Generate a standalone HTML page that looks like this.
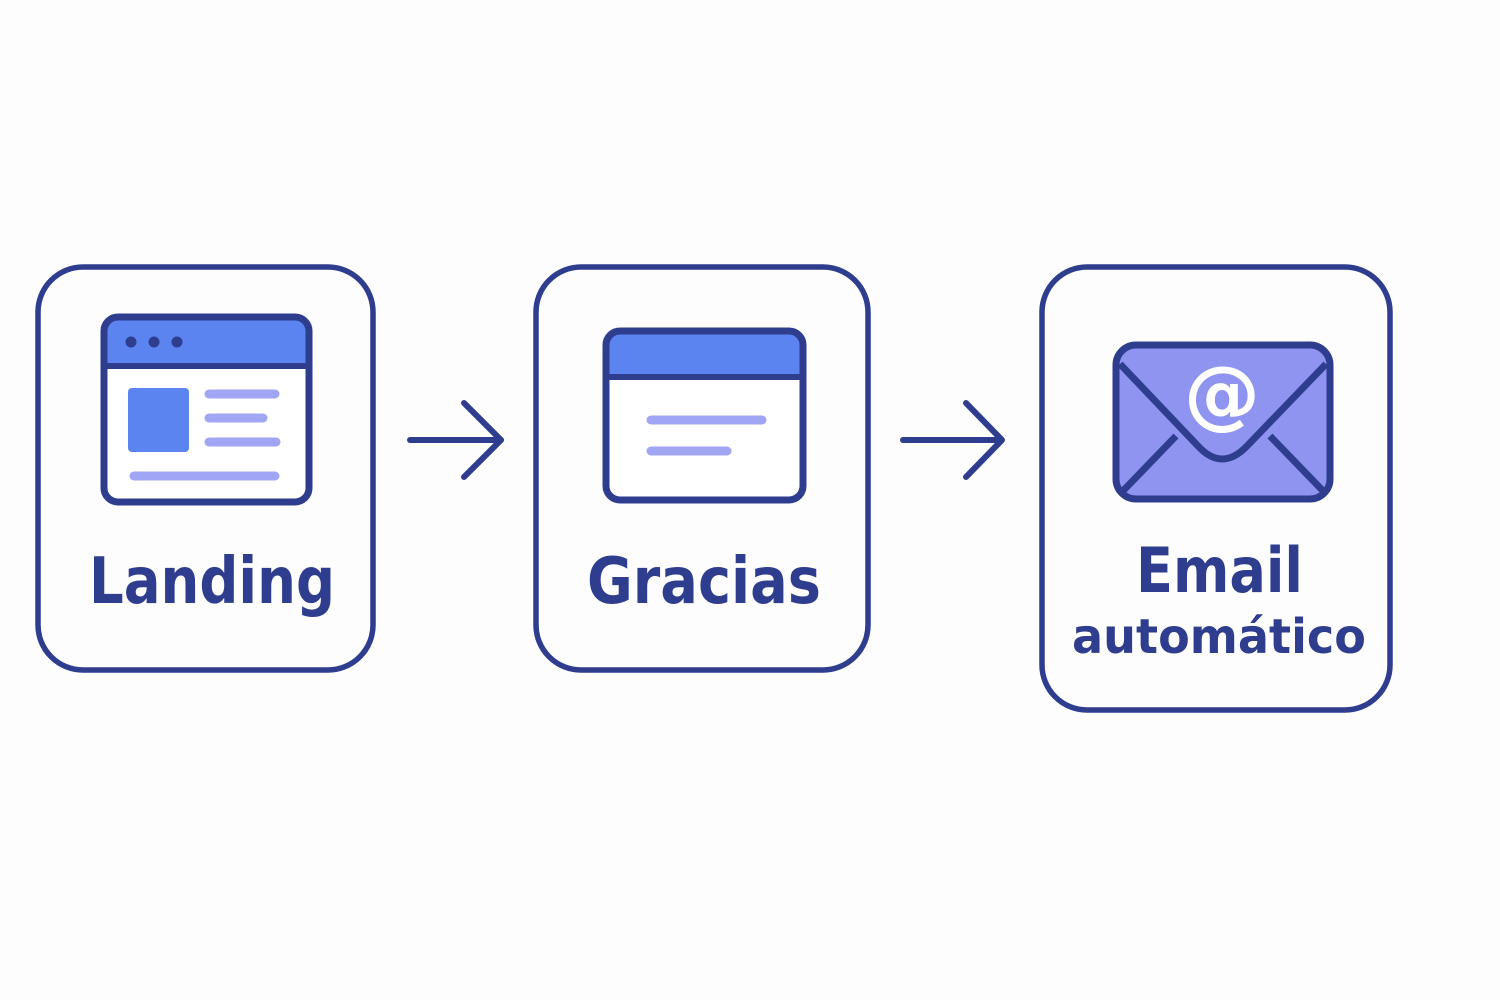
<!DOCTYPE html>
<html><head><meta charset="utf-8"><style>
html,body{margin:0;padding:0;background:#fdfdfd;}
svg{display:block}
text{font-family:"DejaVu Sans","Liberation Sans",sans-serif;font-weight:bold;fill:#2f3d8f}
</style></head><body>
<svg width="1500" height="1000" viewBox="0 0 1500 1000" xmlns="http://www.w3.org/2000/svg">
<g fill="none" stroke="#2f3d8f" stroke-width="5.5">
<rect x="38" y="267" width="335" height="403" rx="45"/>
<rect x="536" y="267" width="332" height="403" rx="45"/>
<rect x="1042" y="267" width="348" height="443" rx="45"/>
</g>
<!-- Landing icon -->
<rect x="104" y="317" width="205" height="185" rx="14" fill="#fff"/>
<path d="M107 366 V330 a10 10 0 0 1 10 -10 H296 a10 10 0 0 1 10 10 V366 Z" fill="#5b84f0"/>
<line x1="104" y1="366" x2="309" y2="366" stroke="#2f3d8f" stroke-width="6"/>
<rect x="104" y="317" width="205" height="185" rx="14" fill="none" stroke="#2f3d8f" stroke-width="7"/>
<g fill="#2f3d8f"><circle cx="131" cy="342" r="5.5"/><circle cx="154" cy="342" r="5.5"/><circle cx="177" cy="342" r="5.5"/></g>
<rect x="128" y="388" width="61" height="64" rx="4" fill="#5b84f0"/>
<g stroke="#a0a6f4" stroke-width="9" stroke-linecap="round">
<line x1="209" y1="394" x2="275" y2="394"/><line x1="209" y1="418" x2="263" y2="418"/>
<line x1="209" y1="442" x2="276" y2="442"/><line x1="134" y1="476" x2="275" y2="476"/>
</g>
<text x="89" y="603" font-size="64" textLength="246" lengthAdjust="spacingAndGlyphs">Landing</text>
<!-- Gracias icon -->
<rect x="606" y="331" width="197" height="169" rx="14" fill="#fff"/>
<path d="M608 377 V344 a11 11 0 0 1 11 -11 H790 a11 11 0 0 1 11 11 V377 Z" fill="#5b84f0"/>
<line x1="606" y1="377" x2="803" y2="377" stroke="#2f3d8f" stroke-width="6"/>
<rect x="606" y="331" width="197" height="169" rx="14" fill="none" stroke="#2f3d8f" stroke-width="7"/>
<g stroke="#a0a6f4" stroke-width="9" stroke-linecap="round">
<line x1="651" y1="420" x2="762" y2="420"/><line x1="651" y1="451" x2="727" y2="451"/>
</g>
<text x="587" y="603" font-size="64" textLength="234" lengthAdjust="spacingAndGlyphs">Gracias</text>
<!-- Envelope -->
<rect x="1116" y="345" width="214" height="154" rx="20" fill="#8f94f0" stroke="#2f3d8f" stroke-width="7"/>
<g fill="none" stroke="#2f3d8f" stroke-width="7" stroke-linejoin="round">
<path d="M1120 364 L1198 446 Q1222 472 1247 446 L1326 364"/>
<path d="M1120 494 L1176 436"/><path d="M1326 494 L1270 436"/>
</g>
<text x="1222" y="420" font-size="76" text-anchor="middle" style="fill:#fff;font-weight:bold">@</text>
<text x="1136" y="592" font-size="62" textLength="167" lengthAdjust="spacingAndGlyphs">Email</text>
<text x="1072" y="653" font-size="48" textLength="294" lengthAdjust="spacingAndGlyphs">automático</text>
<!-- arrows -->
<g fill="none" stroke="#2f3d8f" stroke-width="6" stroke-linecap="round" stroke-linejoin="round">
<line x1="410" y1="440" x2="501" y2="440"/><polyline points="464,403 501,440 464,477"/>
<line x1="903" y1="440" x2="1001" y2="440"/><polyline points="966,403 1002,440 966,477"/>
</g>
</svg>
</body></html>
